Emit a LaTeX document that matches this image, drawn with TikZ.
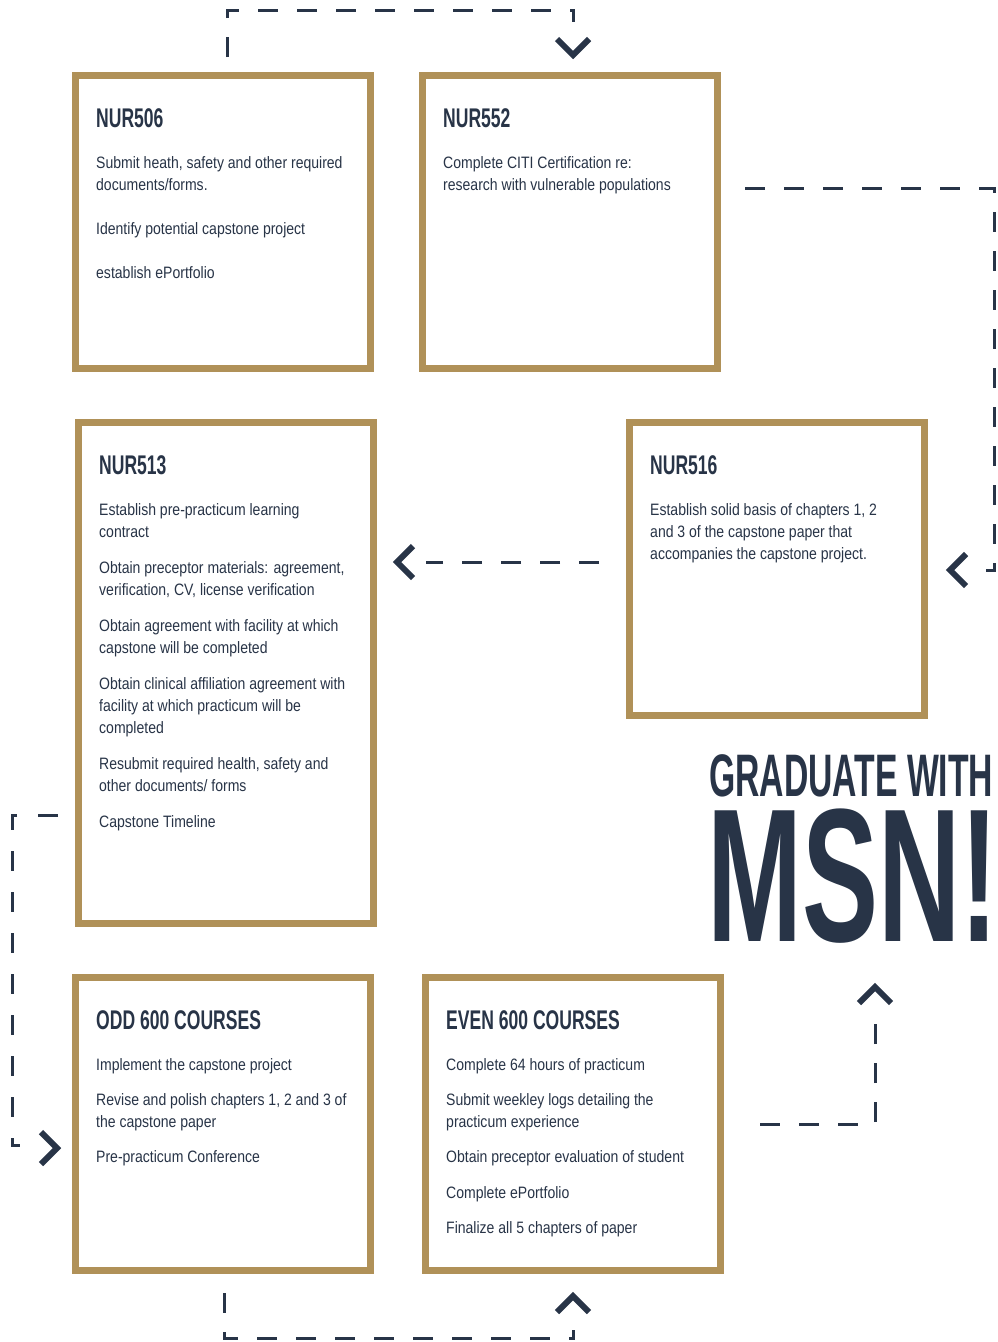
\documentclass[tikz,border=0pt]{standalone}
\usepackage{fontspec}
\setmainfont{Liberation Sans}
\newfontfamily\bodyfont[FakeStretch=0.85]{Liberation Sans}
\newfontfamily\headfont[FakeStretch=0.65]{Liberation Sans}
\newfontfamily\gradfont[FakeStretch=0.562]{Liberation Sans}
\newfontfamily\msnfont[FakeStretch=0.6]{Liberation Sans}
\usetikzlibrary{positioning,calc}
\definecolor{gold}{HTML}{B09158}
\definecolor{navy}{HTML}{283447}
\newcommand{\cardhead}[1]{{\headfont\bfseries\fontsize{27pt}{22pt}\selectfont #1}}

\begin{document}
\begin{tikzpicture}[
    x=1pt, y=-1pt,
    card/.style={rectangle, draw=gold, line width=7pt, fill=white, minimum width=295pt, minimum height=293pt},
    txt/.style={anchor=north west, inner sep=0pt, align=left, text=navy, font=\bodyfont\fontsize{16.5pt}{22pt}\selectfont},
    flow/.style={draw=navy, line width=3pt, dash pattern=on 20pt off 19pt},
    chev/.style={draw=navy, line width=6pt, miter limit=10}
]
\fill [white] (0,0) rectangle (998,1342);
\useasboundingbox (0,0) rectangle (998,1342);

% course boxes
\node [card] (n506) at (223,222) {};
\node [card, right=45pt of n506] (n552) {};
\node [card, minimum height=501pt, below right=47pt and 3pt of n506.south west] (n513) {};
\node [card, below right=0pt and 249pt of n513.north east] (n516) {};
\node [card, below right=47pt and -3pt of n513.south west] (odd) {};
\node [card, right=48pt of odd] (even) {};

% box texts
\node [txt, below right=36pt and 24pt of n506.north west] (t506) {\cardhead{NUR506}\\[19pt]
Submit heath, safety and other required\\
documents/forms.\\[22pt]
Identify potential capstone project\\[22pt]
establish ePortfolio};
\node [txt, below right=36pt and 24pt of n552.north west] (t552) {\cardhead{NUR552}\\[19pt]
Complete CITI Certification re:\\
research with vulnerable populations};
\node [txt, below right=36pt and 24pt of n513.north west] (t513) {\cardhead{NUR513}\\[19pt]
Establish pre-practicum learning\\
contract\\[14pt]
Obtain preceptor materials: agreement,\\
verification, CV, license verification\\[14pt]
Obtain agreement with facility at which\\
capstone will be completed\\[14pt]
Obtain clinical affiliation agreement with\\
facility at which practicum will be\\
completed\\[14pt]
Resubmit required health, safety and\\
other documents/ forms\\[14pt]
Capstone Timeline};
\node [txt, below right=36pt and 24pt of n516.north west] (t516) {\cardhead{NUR516}\\[19pt]
Establish solid basis of chapters 1, 2\\
and 3 of the capstone paper that\\
accompanies the capstone project.};
\node [txt, below right=36pt and 24pt of odd.north west] (todd) {\cardhead{ODD 600 COURSES}\\[19pt]
Implement the capstone project\\[13pt]
Revise and polish chapters 1, 2 and 3 of\\
the capstone paper\\[13pt]
Pre-practicum Conference};
\node [txt, below right=36pt and 24pt of even.north west] (teven) {\cardhead{EVEN 600 COURSES}\\[19pt]
Complete 64 hours of practicum\\[13pt]
Submit weekley logs detailing the\\
practicum experience\\[13pt]
Obtain preceptor evaluation of student\\[14pt]
Complete ePortfolio\\[13pt]
Finalize all 5 chapters of paper};

% title
\node [anchor=base west, inner sep=0pt, text=navy, font=\gradfont\bfseries\fontsize{60pt}{60pt}\selectfont] (grad) at (709,796) {GRADUATE WITH};
\node [anchor=base west, inner sep=0pt, text=navy, font=\msnfont\bfseries\fontsize{190pt}{190pt}\selectfont] (msn) at (707,941) {MSN!};

% connectors
\coordinate (s1) at ($(n506.north)+(4,-15)$);
\coordinate (h1) at ($(n552.north)+(3,-17)$);
\draw [flow] (s1) -- ++(0,-47) -| ($(h1)+(0,-33)$);
\draw [chev] (h1) ++(-16,-16) -- ++(16,16) -- ++(16,-16);

\coordinate (s2) at ($(n552.east)+(24,-34)$);
\coordinate (h2) at ($(n516.east)+(22,1)$);
\draw [flow] (s2) -| ($(h2)+(44,0)$) -- ++(-8,0);
\draw [chev] (h2) ++(16,-16) -- ++(-16,16) -- ++(16,16);

\coordinate (s3) at ($(n516.west)+(-27,-7)$);
\coordinate (h3) at ($(n513.east)+(20,-111)$);
\draw [flow] (s3) -- ($(h3)+(29,0)$);
\draw [chev] (h3) ++(16,-16) -- ++(-16,16) -- ++(16,16);

\coordinate (s4) at ($(n513.west)+(-17,142)$);
\coordinate (h4) at ($(odd.west)+(-15,24)$);
\draw [flow, dash pattern=on 20pt off 21pt] (s4) -| ($(h4)+(-45,-3)$) -- ++(8,0);
\draw [chev] (h4) ++(-16,-16) -- ++(16,16) -- ++(-16,16);

\coordinate (s5) at ($(odd.south)+(1,19)$);
\coordinate (h5) at ($(even.south)+(0,22)$);
\draw [flow] (s5) |- ($(h5)+(0,42)$) -- ++(0,-8);
\draw [chev] (h5) ++(-16,16) -- ++(16,-16) -- ++(16,16);

\coordinate (s6) at ($(even.east)+(36,0)$);
\coordinate (h6) at ($(even.north east)+(151,13)$);
\draw [flow] (s6) -| ($(h6)+(0,30)$);
\draw [chev] (h6) ++(-16,16) -- ++(16,-16) -- ++(16,16);

\end{tikzpicture}
\end{document}
